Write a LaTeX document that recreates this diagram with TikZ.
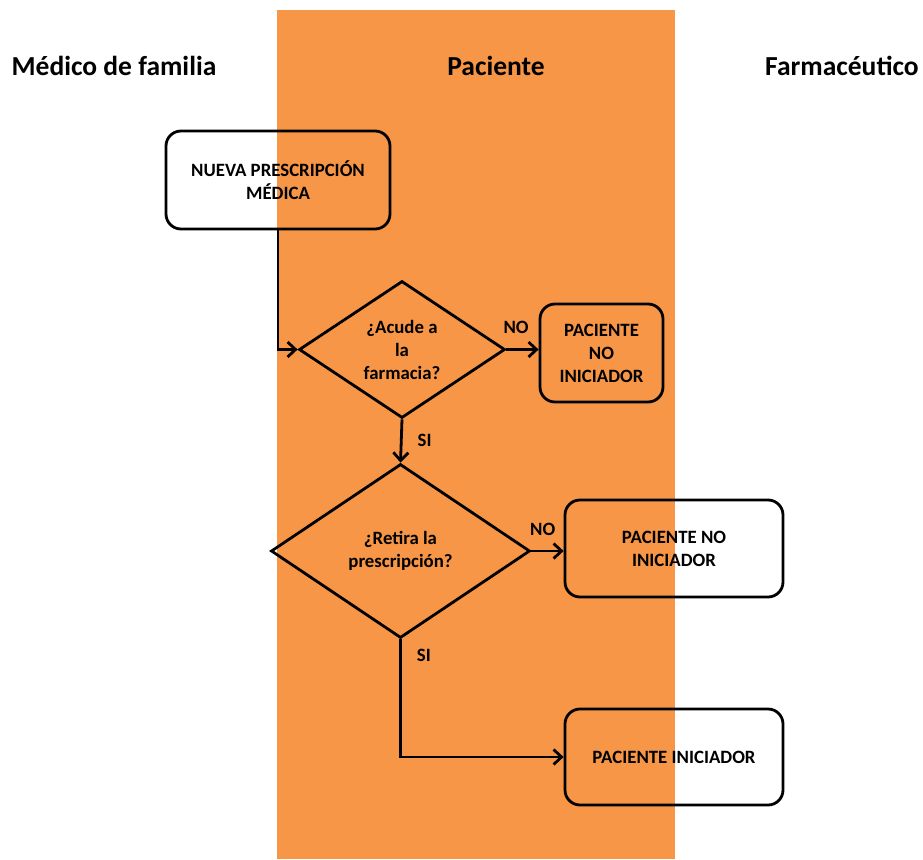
\documentclass[tikz,border=0pt]{standalone}
\usepackage{fontspec}
\setmainfont{Carlito}
\usetikzlibrary{arrows.meta,shapes.geometric}
\definecolor{lane}{HTML}{F79646}
\begin{document}
\begin{tikzpicture}[x=1pt,y=-1pt,
  every node/.style={font=\bfseries\fontsize{18.8}{23}\selectfont, align=center},
  header/.style={font=\bfseries\fontsize{27.5}{32}\selectfont, anchor=center},
  procbox/.style={draw, line width=2.8pt, rounded corners=15pt, inner sep=0pt},
  decision/.style={draw, diamond, line width=2.8pt, inner sep=0pt},
  flow/.style={line width=2.8pt, -{Straight Barb[length=8pt,width=15pt,line width=2.8pt]}},
  lbl/.style={inner sep=0pt}]
\useasboundingbox (0,0) rectangle (923,859);
% swim lane of the patient
\fill[lane] (277,10) rectangle (675,859);
% lane headers
\node[header] (hmed) at (114,66) {Médico de familia};
\node[header] (hpac) at (496,66) {Paciente};
\node[header] (hfar) at (842,66) {Farmacéutico};
% process boxes
\node[procbox, minimum width=224pt, minimum height=98pt] (presc) at (278,180)
  {NUEVA PRESCRIPCIÓN\\MÉDICA};
\node[procbox, minimum width=123pt, minimum height=98pt] (noini1) at (601.5,353)
  {PACIENTE\\NO\\INICIADOR};
\node[procbox, minimum width=218pt, minimum height=97pt] (noini2) at (674,548.5)
  {PACIENTE NO\\INICIADOR};
\node[procbox, minimum width=218pt, minimum height=96pt] (ini) at (674,757)
  {PACIENTE INICIADOR};
% decisions
\node[decision, minimum width=206pt, minimum height=137pt] (acude) at (402,349.5)
  {¿Acude a\\la\\farmacia?};
\node[decision, minimum width=259pt, minimum height=174pt] (retira) at (400.5,551)
  {¿Retira la\\prescripción?};
% connectors
\draw[flow] (presc.south) |- (acude.west);
\draw[flow] (acude.east) -- node[lbl, pos=0.3, above=14pt] {NO} (acude.east -| noini1.west);
\draw[flow] (acude.south) -- node[lbl, pos=0.48, right=15pt] {SI} (retira.north);
\draw[flow] (retira.east) -- node[lbl, pos=0.35, above=14pt] {NO} (retira.east -| noini2.west);
\draw[flow] (retira.south) |- node[lbl, pos=0.07, right=15pt] {SI} (ini.west);
\end{tikzpicture}
\end{document}
